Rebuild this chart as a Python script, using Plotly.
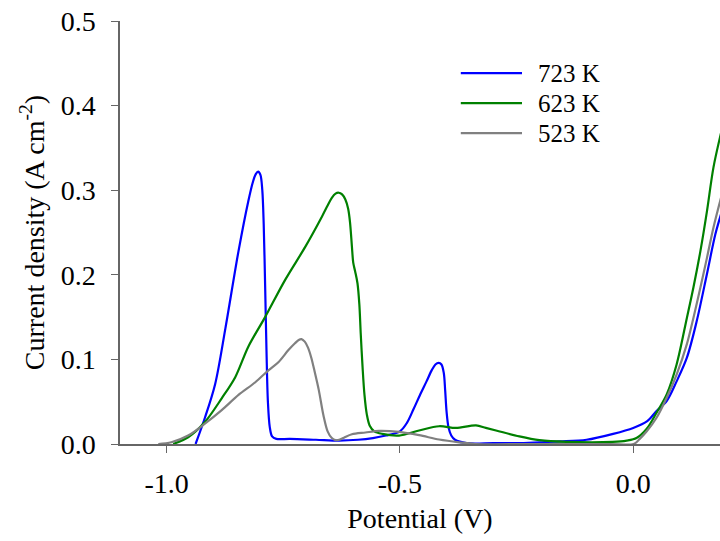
import plotly.graph_objects as go

# 723 K (blue)
x723 = [-0.938, -0.918, -0.896, -0.874, -0.846, -0.825, -0.815, -0.809, -0.804, -0.799, -0.795, -0.792,
        -0.789, -0.786, -0.783, -0.779, -0.774, -0.765, -0.736, -0.68, -0.63, -0.59, -0.558, -0.53,
        -0.50, -0.485, -0.471, -0.457, -0.443, -0.432, -0.424, -0.417, -0.411, -0.406, -0.403, -0.400,
        -0.396, -0.390, -0.382, -0.357, -0.30, -0.25, -0.20, -0.157, -0.10, -0.043, 0.0, 0.03, 0.05,
        0.072, 0.093, 0.115, 0.136, 0.158, 0.176, 0.19]
y723 = [0.0, 0.031, 0.071, 0.137, 0.228, 0.287, 0.310, 0.319, 0.322, 0.318, 0.300, 0.260,
        0.189, 0.110, 0.050, 0.020, 0.009, 0.006, 0.006, 0.005, 0.004, 0.005, 0.007, 0.010,
        0.015, 0.025, 0.041, 0.058, 0.074, 0.087, 0.094, 0.096, 0.094, 0.084, 0.063, 0.038,
        0.020, 0.010, 0.005, 0.001, 0.001, 0.001, 0.002, 0.003, 0.005, 0.012, 0.019, 0.027, 0.039,
        0.051, 0.074, 0.102, 0.145, 0.201, 0.248, 0.275]

# 623 K (green)
x623 = [-0.986, -0.954, -0.918, -0.882, -0.853, -0.825, -0.789, -0.746, -0.703, -0.667, -0.655,
        -0.646, -0.638, -0.631, -0.624, -0.617, -0.611, -0.607, -0.603, -0.600, -0.596, -0.591,
        -0.587, -0.584, -0.580, -0.576, -0.571, -0.565, -0.555, -0.538, -0.502, -0.459, -0.416,
        -0.380, -0.337, -0.316, -0.294, -0.244, -0.201, -0.143, -0.044, -0.014, 0.007, 0.029,
        0.05, 0.072, 0.093, 0.115, 0.129, 0.144, 0.158, 0.172, 0.19]
y623 = [0.0, 0.008, 0.026, 0.054, 0.079, 0.115, 0.150, 0.194, 0.233, 0.269, 0.282,
        0.291, 0.296, 0.297, 0.295, 0.289, 0.278, 0.262, 0.234, 0.214, 0.204, 0.190,
        0.165, 0.130, 0.090, 0.058, 0.035, 0.022, 0.015, 0.012, 0.010, 0.016, 0.021,
        0.019, 0.022, 0.019, 0.016, 0.009, 0.0045, 0.0025, 0.0025, 0.004, 0.007, 0.018,
        0.037, 0.059, 0.094, 0.149, 0.185, 0.228, 0.275, 0.327, 0.372]

# 523 K (grey)
x523 = [-1.018, -0.99, -0.954, -0.918, -0.882, -0.846, -0.810, -0.782, -0.760, -0.739, -0.725,
        -0.717, -0.711, -0.704, -0.697, -0.690, -0.683, -0.674, -0.664, -0.655, -0.646, -0.638,
        -0.630, -0.620, -0.603, -0.574, -0.545, -0.502, -0.459, -0.416, -0.373, -0.337, -0.20,
        -0.05, 0.001, 0.014, 0.029, 0.05, 0.072, 0.093, 0.115, 0.129, 0.144, 0.158, 0.172, 0.19]
y523 = [0.0, 0.002, 0.010, 0.024, 0.040, 0.058, 0.073, 0.087, 0.097, 0.111, 0.119,
        0.123, 0.124, 0.121, 0.114, 0.102, 0.086, 0.064, 0.034, 0.015, 0.007, 0.0045,
        0.005, 0.0075, 0.0115, 0.0136, 0.0155, 0.0143, 0.0104, 0.0053, 0.002, 0.0, 0.0,
        0.0, 0.0, 0.006, 0.015, 0.031, 0.055, 0.082, 0.118, 0.149, 0.185, 0.220, 0.256, 0.295]

names = ["723 K", "623 K", "523 K"]
colors = ["#0000ff", "#008000", "#808080"]
xs_all = [x723, x623, x523]
ys_all = [y723, y623, y523]

FONT = "Liberation Serif"

fig = go.Figure()
for name, xs, ys, col in zip(names, xs_all, ys_all, colors):
    fig.add_trace(go.Scatter(x=xs, y=ys, name=name, mode="lines", showlegend=False,
                             line=dict(color=col, width=2.2, shape="spline", smoothing=0.9)))

# legend drawn as line keys + labels (paper coordinates)
leg_y = [0.877, 0.806, 0.735]
for name, col, ly in zip(names, colors, leg_y):
    fig.add_shape(type="line", xref="paper", yref="paper", x0=0.568, x1=0.670, y0=ly, y1=ly,
                  line=dict(color=col, width=2.2))
    fig.add_annotation(xref="paper", yref="paper", x=0.693, y=ly, text=name, showarrow=False,
                       xanchor="left", yanchor="middle", font=dict(family=FONT, size=25, color="black"))

fig.update_layout(
    width=720, height=541,
    margin=dict(l=120, r=0, t=21, b=97),
    paper_bgcolor="white", plot_bgcolor="white",
    font=dict(family=FONT, size=28, color="black"),
    showlegend=False,
)
fig.update_xaxes(range=[-1.1, 0.186], tickvals=[-1.0, -0.5, 0.0], ticktext=["-1.0", "-0.5", "0.0"],
                 showgrid=False, zeroline=False, showline=True, linecolor="#666666", linewidth=1.5,
                 ticks="outside", ticklen=7, tickcolor="#666666", tickwidth=1,
                 ticklabelstandoff=7,
                 title=dict(text="Potential (V)", standoff=10, font=dict(size=28)))
fig.update_yaxes(range=[0, 0.5], tickvals=[0.0, 0.1, 0.2, 0.3, 0.4, 0.5],
                 ticktext=["0.0", "0.1", "0.2", "0.3", "0.4", "0.5"],
                 showgrid=False, zeroline=False, showline=True, linecolor="#666666", linewidth=1.5,
                 ticks="outside", ticklen=7, tickcolor="#666666", tickwidth=1,
                 ticklabelstandoff=10,
                 title=dict(text="Current density (A cm<sup>-2</sup>)", standoff=8, font=dict(size=28)))

fig.write_html("out.html")
